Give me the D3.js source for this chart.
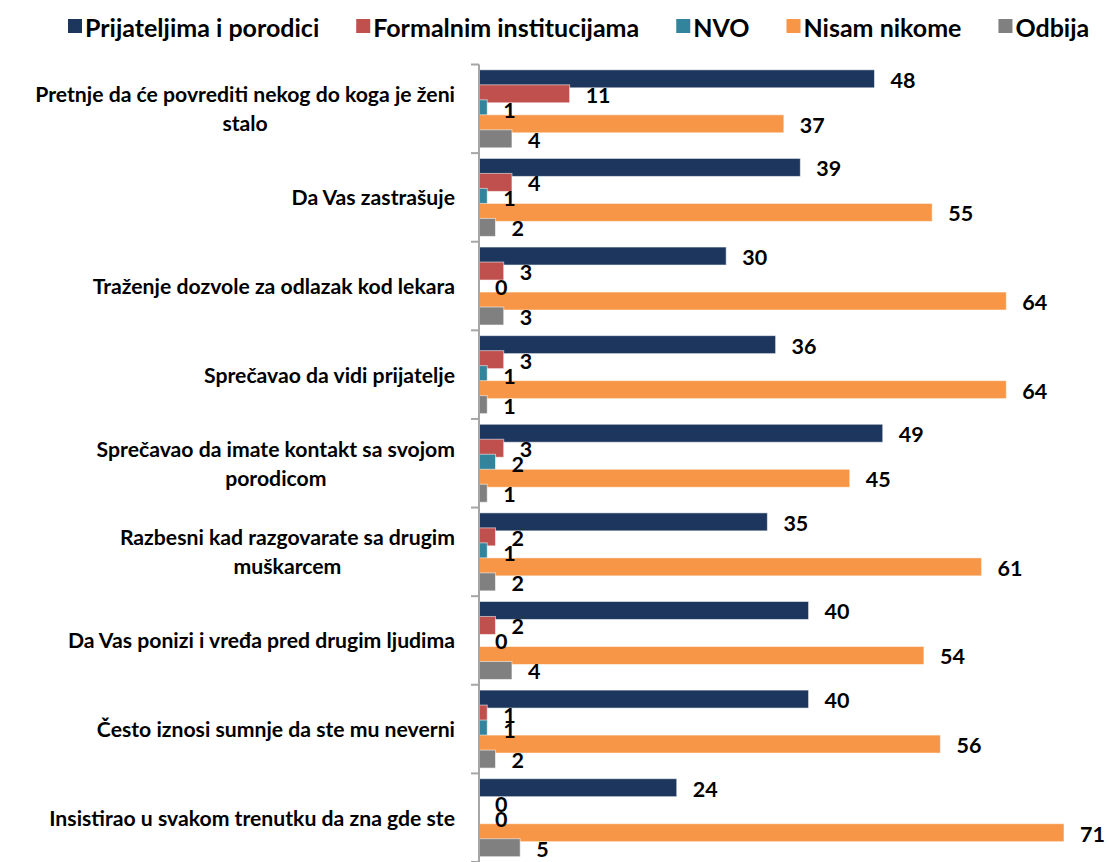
<!DOCTYPE html>
<html>
<head>
<meta charset="utf-8">
<script src="https://cdn.jsdelivr.net/npm/d3@7"></script>
<style>
  html, body { margin: 0; padding: 0; background: #fff; }
  svg { display: block; font-family: Lato, "Open Sans", sans-serif; font-weight: bold; }
</style>
</head>
<body>
<svg id="chart" width="1109" height="862"></svg>
<script>
// Categories (each entry is a list of label lines)
const categories = [
  ["Pretnje da će povrediti nekog do koga je ženi", "stalo"],
  ["Da Vas zastrašuje"],
  ["Traženje dozvole za odlazak kod lekara"],
  ["Sprečavao da vidi prijatelje"],
  ["Sprečavao da imate kontakt sa svojom", "porodicom"],
  ["Razbesni kad razgovarate sa drugim", "muškarcem"],
  ["Da Vas ponizi i vređa pred drugim ljudima"],
  ["Često iznosi sumnje da ste mu neverni"],
  ["Insistirao u svakom trenutku da zna gde ste"]
];

const seriesNames = ["Prijateljima i porodici", "Formalnim institucijama", "NVO", "Nisam nikome", "Odbija"];
const seriesColors = ["#1d365d", "#c0504d", "#31849b", "#f79646", "#808080"];

const prijateljima = [48, 39, 30, 36, 49, 35, 40, 40, 24];
const formalnim    = [11, 4, 3, 3, 3, 2, 2, 1, 0];
const nvo          = [1, 1, 0, 1, 2, 1, 0, 1, 0];
const nisamNikome  = [37, 55, 64, 64, 45, 61, 54, 56, 71];
const odbija       = [4, 2, 3, 1, 1, 2, 4, 2, 5];

const seriesValues = [prijateljima, formalnim, nvo, nisamNikome, odbija];

const svg = d3.select("#chart");

// Plot frame
const axisX = 479;
const plotTop = 64.5;
const plotBottom = 862;
const plotRightAtMax = 1064;

const x = d3.scaleLinear().domain([0, 71]).range([axisX, plotRightAtMax]);
const y = d3.scaleBand().domain(d3.range(categories.length)).range([plotTop, plotBottom]).paddingInner(0).paddingOuter(0);

// Bars overlap slightly inside each cluster
const barStep = 15;
const barH = 18;
const clusterH = barStep * (seriesNames.length - 1) + barH;
const clusterOffset = (y.bandwidth() - clusterH) / 2;

const barsG = svg.append("g");
seriesNames.forEach((name, si) => {
  const vals = seriesValues[si];
  const g = barsG.append("g");
  g.selectAll("rect")
    .data(vals)
    .join("rect")
    .attr("x", x(0))
    .attr("y", (d, i) => y(i) + clusterOffset + si * barStep)
    .attr("width", d => x(d) - x(0))
    .attr("height", barH)
    .attr("fill", seriesColors[si])
    .attr("stroke", d => d > 0 ? "rgba(255,255,255,0.55)" : "none")
    .attr("stroke-width", 1);
});

// Value labels
const labelsG = svg.append("g");
seriesNames.forEach((name, si) => {
  const vals = seriesValues[si];
  labelsG.selectAll(null)
    .data(vals)
    .join("text")
    .attr("x", d => x(d) + 16)
    .attr("y", (d, i) => y(i) + clusterOffset + si * barStep + barH / 2 + 1)
    .attr("dominant-baseline", "central")
    .attr("font-size", 21.5)
    .attr("fill", "#000")
    .text(d => d);
});

// Category axis
const axisG = svg.append("g");
axisG.append("line")
  .attr("x1", axisX).attr("x2", axisX)
  .attr("y1", plotTop).attr("y2", plotBottom)
  .attr("stroke", "#a6a6a6").attr("stroke-width", 2);
const tickYs = d3.range(categories.length + 1).map(i => plotTop + i * y.step());
axisG.selectAll("line.tick")
  .data(tickYs)
  .join("line")
  .attr("class", "tick")
  .attr("x1", axisX - 8).attr("x2", axisX)
  .attr("y1", d => d).attr("y2", d => d)
  .attr("stroke", "#a6a6a6").attr("stroke-width", 2);

// Category labels: right-aligned block, lines centered within it
const labelRight = 455;
const lineH = 29;
categories.forEach((lines, i) => {
  const cy = y(i) + y.bandwidth() / 2;
  const g = axisG.append("g");
  const texts = lines.map((ln, li) => g.append("text")
    .attr("font-size", 21.2)
    .attr("fill", "#000")
    .attr("text-anchor", "middle")
    .attr("dominant-baseline", "central")
    .attr("y", cy + (li - (lines.length - 1) / 2) * lineH)
    .text(ln));
  const maxW = d3.max(texts, t => t.node().getComputedTextLength());
  texts.forEach(t => t.attr("x", labelRight - maxW / 2));
});

// Legend
const legendG = svg.append("g");
let lx = 68;
const ly = 26;
seriesNames.forEach((name, si) => {
  legendG.append("rect")
    .attr("x", lx).attr("y", ly - 7)
    .attr("width", 14).attr("height", 14)
    .attr("fill", seriesColors[si]);
  const t = legendG.append("text")
    .attr("x", lx + 17).attr("y", ly + 1)
    .attr("dominant-baseline", "central")
    .attr("font-size", 25)
    .attr("fill", "#000")
    .text(name);
  lx += 17 + t.node().getComputedTextLength() + 37;
});
</script>
</body>
</html>
